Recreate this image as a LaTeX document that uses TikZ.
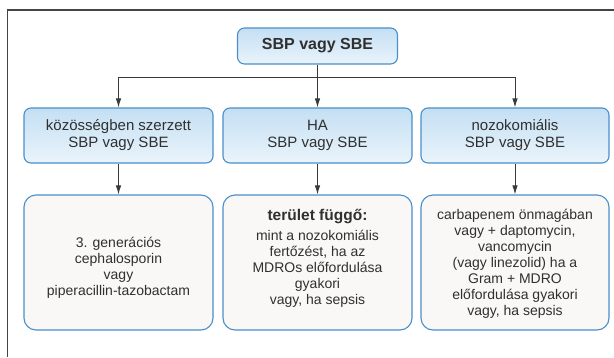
\documentclass[tikz,border=0pt]{standalone}
\usepackage{fontspec}
\setmainfont{Liberation Sans}
\usetikzlibrary{arrows.meta}
\definecolor{frameline}{HTML}{444444}
\definecolor{boxline}{HTML}{4A8FC9}
\definecolor{blueTop}{HTML}{C4DFF3}
\definecolor{blueBot}{HTML}{EAF4FB}
\definecolor{paleFill}{HTML}{FAF8F6}
\definecolor{inktext}{HTML}{303030}
\definecolor{linkline}{HTML}{3A3A3A}

\begin{document}
\begin{tikzpicture}[x=1pt,y=-1pt,
  every node/.style={text=inktext},
  headbox/.style={draw=boxline, line width=1.1pt, rounded corners=7pt,
    top color=blueTop, bottom color=blueBot,
    minimum width=160pt, minimum height=36pt, inner sep=0pt,
    font=\fontsize{16}{19}\selectfont\bfseries},
  groupbox/.style={draw=boxline, line width=1.1pt, rounded corners=7pt,
    top color=blueTop, bottom color=blueBot,
    minimum height=55pt, inner sep=0pt, align=center,
    font=\fontsize{15}{17}\selectfont},
  therapybox/.style={draw=boxline, line width=1.1pt, rounded corners=12pt,
    fill=paleFill, minimum height=135pt, inner sep=0pt},
  therapytext/.style={align=center, inner sep=0pt,
    font=\fontsize{14}{16}\selectfont},
  link/.style={draw=linkline, line width=0.9pt},
  arrowlink/.style={link, -{Latex[length=9pt,width=5.5pt]}}
]
\useasboundingbox (0,0) rectangle (614,357);

% open frame: top and left edges only
\draw[frameline, line width=1.2pt] (614,10) -- (7.5,10) -- (7.5,357);

% root
\node[headbox] (head) at (317.5,46) {SBP vagy SBE};

% acquisition groups
\node[groupbox, minimum width=189pt] (ca)   at (118.5,135.5) {közösségben szerzett\\SBP vagy SBE};
\node[groupbox, minimum width=189pt] (ha)   at (317.5,135.5) {HA\\SBP vagy SBE};
\node[groupbox, minimum width=188pt] (noso) at (515,135.5)   {nozokomiális\\SBP vagy SBE};

% therapy boxes
\node[therapybox, minimum width=189pt] (tca)   at (118.5,262.5) {};
\node[therapybox, minimum width=189pt] (tha)   at (317.5,262.5) {};
\node[therapybox, minimum width=188pt] (tnoso) at (515,262.5)   {};

\node[therapytext] (tcatext) at (118.5,268) {3. generációs\\cephalosporin\\vagy\\piperacillin-tazobactam};
\node[therapytext] (thatext) at (317.5,258) {{\fontsize{15.5}{17}\selectfont\bfseries terület függő:}\\[4pt]mint a nozokomiális\\fertőzést, ha az\\MDROs előfordulása\\gyakori\\vagy, ha sepsis};
\node[therapytext] (tnosotext) at (515,263.5) {carbapenem önmagában\\vagy + daptomycin,\\vancomycin\\(vagy linezolid) ha a\\Gram + MDRO\\előfordulása gyakori\\vagy, ha sepsis};

% connectors
\coordinate (fork) at (317.5,77);
\draw[link] (head) -- (fork);
\draw[arrowlink] (fork) -| (ca);
\draw[arrowlink] (fork) -- (ha);
\draw[arrowlink] (fork) -| (noso);
\draw[arrowlink] (ca) -- (tca);
\draw[arrowlink] (ha) -- (tha);
\draw[arrowlink] (noso) -- (tnoso);
\end{tikzpicture}
\end{document}
